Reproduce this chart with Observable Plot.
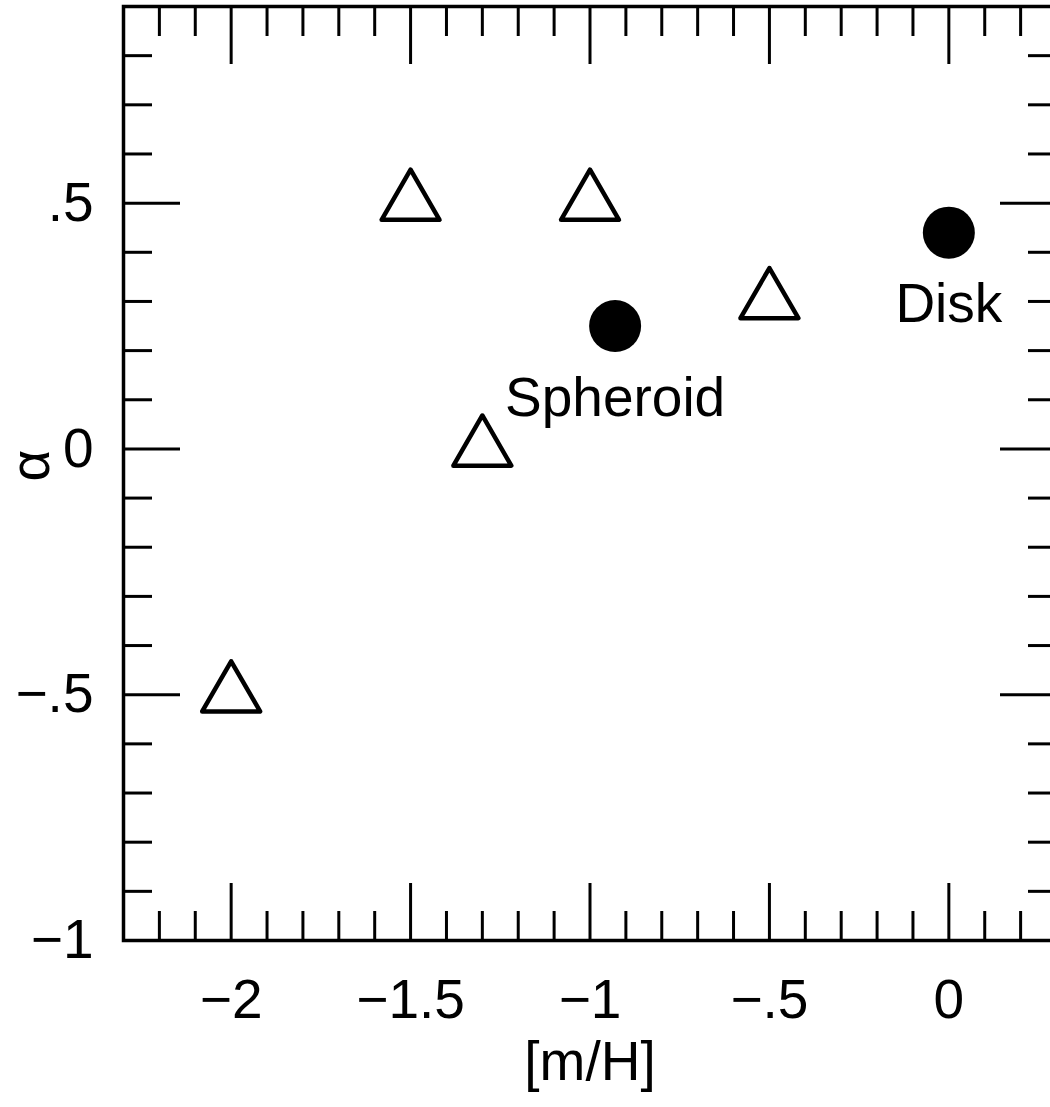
<!DOCTYPE html>
<html>
<head>
<meta charset="utf-8">
<script src="https://cdn.jsdelivr.net/npm/d3@7"></script>
<script src="https://cdn.jsdelivr.net/npm/@observablehq/plot@0.6"></script>
<style>
  html, body { margin: 0; padding: 0; background: white; overflow: hidden; }
  #chart svg { display: block; }
</style>
</head>
<body>
<div id="chart"></div>
<script>
// ---- data ----
const triX = [-2, -1.5, -1.3, -1, -0.5];
const triY = [-0.5, 0.5, 0, 0.5, 0.3];
const circX = [-0.93, 0];
const circY = [0.25, 0.44];
const circLabels = ["Spheroid", "Disk"];

const xMajor = [-2, -1.5, -1, -0.5, 0];
const xMinor = [-2.2, -2.1, -1.9, -1.8, -1.7, -1.6, -1.4, -1.3, -1.2, -1.1, -0.9, -0.8, -0.7, -0.6, -0.4, -0.3, -0.2, -0.1, 0.1, 0.2];
const yMajor = [-0.5, 0, 0.5];
const yMinor = [-0.9, -0.8, -0.7, -0.6, -0.4, -0.3, -0.2, -0.1, 0.1, 0.2, 0.3, 0.4, 0.6, 0.7, 0.8];
const yLabelTicks = [-1, -0.5, 0, 0.5];
const xTitle = "[m/H]";
const yTitle = "α";

// ---- build ----
const triangles = triX.map((x, i) => ({x, y: triY[i]}));
const circles = circX.map((x, i) => ({x, y: circY[i], label: circLabels[i]}));

const fmt = d => {
  if (d === 0) return "0";
  let s = String(Math.abs(d)).replace(/^0\./, ".");
  return (d < 0 ? "\u2212" : "") + s;
};

const FONT = "Liberation Sans, Arial, Helvetica, sans-serif";
const FS = 55;
const tickW = 3;
const minorLen = 29;
const majorLen = 57;

const tickAxes = [];
for (const anchor of ["bottom", "top"]) {
  tickAxes.push(Plot.axisX(xMinor, {anchor, tickSize: -minorLen, tickFormat: null, text: null, strokeWidth: tickW, label: null}));
  tickAxes.push(Plot.axisX(xMajor, {anchor, tickSize: -majorLen, tickFormat: null, text: null, strokeWidth: tickW, label: null}));
}
for (const anchor of ["left", "right"]) {
  tickAxes.push(Plot.axisY(yMinor, {anchor, tickSize: -minorLen, tickFormat: null, text: null, strokeWidth: tickW, label: null}));
  tickAxes.push(Plot.axisY(yMajor, {anchor, tickSize: -majorLen, tickFormat: null, text: null, strokeWidth: tickW, label: null}));
}

const chart = Plot.plot({
  width: 1050,
  height: 1107,
  marginLeft: 123,
  marginRight: -6,
  marginTop: 6,
  marginBottom: 167,
  style: {fontFamily: FONT, background: "white", color: "black", overflow: "hidden"},
  x: {domain: [-2.3, 0.3], axis: null},
  y: {domain: [-1, 0.9], axis: null},
  marks: [
    ...tickAxes,
    Plot.axisX(xMajor, {anchor: "bottom", tickSize: 0, tickPadding: 38, tickFormat: fmt, fontSize: FS, fill: "black", label: null}),
    Plot.axisY(yLabelTicks, {anchor: "left", tickSize: 0, tickPadding: 30, tickFormat: fmt, fontSize: FS, fill: "black", label: null}),
    Plot.frame({stroke: "black", strokeWidth: 3.5}),
    Plot.dot(triangles, {x: "x", y: "y", symbol: "triangle", r: 21.5, stroke: "black", strokeWidth: 4.5, fill: "white", strokeLinejoin: "round"}),
    Plot.dot(circles, {x: "x", y: "y", r: 26, fill: "black", stroke: "none"}),
    Plot.text(circles, {x: "x", y: "y", text: "label", dy: 72, fontSize: FS, fill: "black", textAnchor: "middle", lineAnchor: "middle"}),
    Plot.text([xTitle], {frameAnchor: "bottom", text: d => d, dy: 122, fontSize: FS, fill: "black", lineAnchor: "middle"}),
    Plot.text([yTitle], {frameAnchor: "left", text: d => d, dx: -92, dy: 8, rotate: -90, fontSize: FS, fill: "black", lineAnchor: "middle"})
  ]
});
document.getElementById("chart").appendChild(chart);
</script>
</body>
</html>
